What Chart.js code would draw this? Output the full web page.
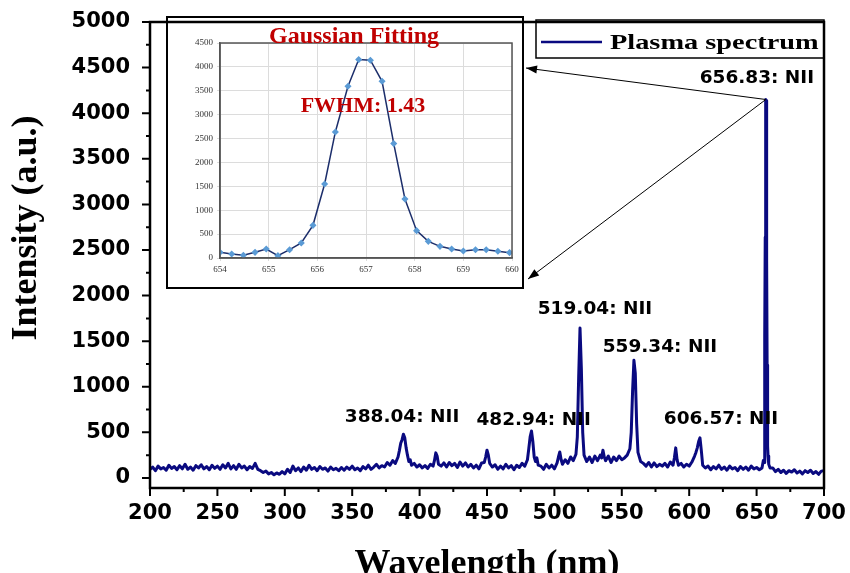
<!DOCTYPE html>
<html>
<head>
<meta charset="utf-8">
<script src="https://cdn.jsdelivr.net/npm/chart.js@4.4.1/dist/chart.umd.min.js"></script>
<style>
  body { margin: 0; background: #fff; }
  #wrap { position: relative; width: 850px; height: 573px; }
  #inset { position: absolute; left: 167px; top: 17px; }
</style>
</head>
<body>
<div id="wrap">
  <canvas id="spectrum" width="850" height="573"></canvas>
  <canvas id="inset" width="356" height="271"></canvas>
</div>
<script>
// main spectrum
const wavelength = [
  200,202,204,206,208,210,212,214,216,218,
  220,222,224,226,228,230,232,234,236,238,
  240,242,244,246,248,250,252,254,256,258,
  260,262,264,266,268,270,272,274,276,278,
  280,282,284,286,288,290,292,294,296,298,
  300,302,304,306,308,310,312,314,316,318,
  320,322,324,326,328,330,332,334,336,338,
  340,342,344,346,348,350,352,354,356,358,
  360,362,364,366,368,370,372,374,376,378,
  380,382,384,385,386,387,388,389,390,391,
  392,393,394,396,398,400,402,404,406,408,
  410,411,412,413,414,416,418,420,422,424,
  426,428,430,432,434,436,438,440,442,444,
  446,448,449,450,451,452,454,456,458,460,
  462,464,466,468,470,472,474,476,478,480,
  481,482,483,484,485,486,487,488,490,492,
  494,496,498,500,502,503,504,505,506,508,
  510,512,514,516,517,518,519,520,521,522,
  524,526,528,530,532,534,535,536,537,538,
  540,542,544,546,548,550,552,554,556,557,
  558,559,560,561,562,564,566,568,570,572,
  574,576,578,580,582,584,586,588,589,590,
  591,592,594,596,598,600,602,604,605,606,
  607,608,609,610,612,614,616,618,620,622,
  624,626,628,630,632,634,636,638,640,642,
  644,646,648,650,652,654,655,655.5,655.9,656.15,
  656.4,656.63,656.83,657.09,657.33,657.57,657.8,658.04,658.3,658.5,
  659,660,662,664,666,668,670,672,674,676,
  678,680,682,684,686,688,690,692,694,696,
  698,700
]
const intensity = [
  95,120,80,130,100,115,85,140,105,125,
  90,135,100,150,95,120,85,135,110,145,
  100,125,90,140,105,130,95,145,110,160,
  100,135,95,150,110,130,90,125,105,160,
  95,80,60,75,45,60,35,55,40,70,
  45,95,60,130,80,110,70,120,85,140,
  95,115,80,125,95,110,75,120,90,105,
  80,115,85,120,95,130,90,110,80,125,
  100,140,95,120,150,110,135,120,170,140,
  190,160,230,300,380,420,480,440,330,250,
  180,200,140,160,120,145,110,135,105,150,
  130,190,275,240,150,130,165,120,170,135,
  160,115,175,130,165,120,150,110,140,100,
  165,170,230,305,250,160,120,145,95,130,
  100,150,110,135,90,140,115,160,130,200,
  320,450,515,400,230,180,220,140,130,95,
  150,110,140,100,165,230,285,200,150,200,
  160,230,190,260,450,1100,1645,1200,500,250,
  180,230,170,240,190,250,220,305,230,190,
  240,170,230,190,240,200,220,250,320,500,
  950,1290,1150,600,280,180,160,130,170,120,
  165,125,150,130,160,120,175,140,220,330,
  200,140,160,120,150,130,175,240,280,330,
  400,440,300,140,110,130,90,125,100,140,
  95,120,85,130,100,115,80,125,95,120,
  85,130,100,115,90,110,190,170,680,1550,
  2640,3590,4150,4140,3700,2390,1240,570,350,240,
  150,110,110,70,95,60,85,50,80,65,
  90,55,75,45,80,60,85,50,70,40,
  75,80
]
const xTicks = [200,250,300,350,400,450,500,550,600,650,700]
const yTicks = [0,500,1000,1500,2000,2500,3000,3500,4000,4500,5000]

const peakNames = ['388.04: NII','482.94: NII','519.04: NII','559.34: NII','606.57: NII','656.83: NII']
const peakLabelAt = [[387,617],[484.6,581],[530.1,1797],[578.3,1381],[623.6,592],[650.2,4330]]
const strongPeak = [656.83, 4150]

// inset: gaussian fit of the 656.83 line
const fitX = [654.00,654.24,654.48,654.72,654.95,655.19,655.43,655.67,655.91,656.15,656.37,656.63,656.85,
              657.09,657.33,657.57,657.80,658.04,658.28,658.52,658.76,659.00,659.25,659.47,659.71,659.95]
const fitY = [119,84,56,119,188,49,174,314,684,1549,2638,3594,4153,
              4139,3699,2394,1235,572,349,244,188,147,174,174,140,112]
const fitXTicks = [654,655,656,657,658,659,660]
const fitYTicks = [0,500,1000,1500,2000,2500,3000,3500,4000,4500]

const navy = '#0a0a80'
const red = '#c00000'

function arrow(ctx, x1, y1, x2, y2) {
    const ang = Math.atan2(y2 - y1, x2 - x1)
    ctx.beginPath()
    ctx.moveTo(x1, y1)
    ctx.lineTo(x2, y2)
    ctx.stroke()
    ctx.beginPath()
    ctx.moveTo(x2, y2)
    ctx.lineTo(x2 - 11*Math.cos(ang) + 4*Math.sin(ang), y2 - 11*Math.sin(ang) - 4*Math.cos(ang))
    ctx.lineTo(x2 - 11*Math.cos(ang) - 4*Math.sin(ang), y2 - 11*Math.sin(ang) + 4*Math.cos(ang))
    ctx.closePath()
    ctx.fill()
}

// labels may hang over the edges, the plot box stays where the padding puts it
function noOverhang(s) {
    s.paddingLeft = 0; s.paddingRight = 0; s.paddingTop = 0; s.paddingBottom = 0
}

const decor = {
    id: 'decor',
    afterDraw(chart) {
        const {ctx, chartArea: a, scales: {x, y}} = chart
        ctx.save()
        ctx.strokeStyle = '#000'
        ctx.fillStyle = '#000'

        // ticks, major + minor, pointing out
        ctx.lineWidth = 2
        ctx.beginPath()
        xTicks.forEach((v, i) => {
            const px = x.getPixelForValue(v)
            ctx.moveTo(px, a.bottom); ctx.lineTo(px, a.bottom + 8)
            if (i > 0) {
                const mx = x.getPixelForValue((v + xTicks[i-1]) / 2)
                ctx.moveTo(mx, a.bottom); ctx.lineTo(mx, a.bottom + 4)
            }
        })
        yTicks.forEach((v, i) => {
            const py = y.getPixelForValue(v)
            ctx.moveTo(a.left, py); ctx.lineTo(a.left - 8, py)
            if (i > 0) {
                const my = y.getPixelForValue((v + yTicks[i-1]) / 2)
                ctx.moveTo(a.left, my); ctx.lineTo(a.left - 4, my)
            }
        })
        ctx.stroke()

        // inset box
        ctx.lineWidth = 2
        ctx.strokeRect(167, 17, 356, 271)

        // legend box
        ctx.lineWidth = 1.5
        ctx.strokeRect(536, 20, a.right - 536, 38)
        ctx.strokeStyle = navy
        ctx.lineWidth = 2.5
        ctx.beginPath(); ctx.moveTo(541, 42); ctx.lineTo(602, 42); ctx.stroke()
        ctx.save()
        ctx.translate(610, 49)
        ctx.scale(1.35, 1)
        ctx.font = 'bold 21px "Liberation Serif"'
        ctx.textAlign = 'left'
        ctx.fillText(chart.data.datasets[0].label, 0, 0)
        ctx.restore()

        // frame
        ctx.strokeStyle = '#000'
        ctx.lineWidth = 2.5
        ctx.strokeRect(a.left, a.top, a.right - a.left, a.bottom - a.top)

        // arrows to the inset
        ctx.lineWidth = 1
        const sx = x.getPixelForValue(strongPeak[0]), sy = y.getPixelForValue(strongPeak[1])
        arrow(ctx, sx, sy, 526, 68)
        arrow(ctx, sx, sy, 528, 279)

        // peak labels
        ctx.font = 'bold 18.5px "DejaVu Sans"'
        ctx.textAlign = 'center'
        ctx.textBaseline = 'alphabetic'
        peakNames.forEach((t, i) => {
            ctx.fillText(t, x.getPixelForValue(peakLabelAt[i][0]), y.getPixelForValue(peakLabelAt[i][1]))
        })

        // axis titles
        ctx.font = 'bold 36px "Liberation Serif"'
        ctx.fillText('Wavelength (nm)', (a.left + a.right) / 2, 574)
        ctx.save()
        ctx.translate(27, 228)
        ctx.rotate(-Math.PI / 2)
        ctx.textBaseline = 'middle'
        ctx.fillText('Intensity (a.u.)', 0, 0)
        ctx.restore()
        ctx.restore()
    }
}

const tickFont = {family: 'DejaVu Sans', weight: 'bold', size: 21}

new Chart(document.getElementById('spectrum'), {
    type: 'line',
    data: {
        datasets: [{
            label: 'Plasma spectrum',
            data: wavelength.map((w, i) => ({x: w, y: intensity[i]})),
            borderColor: navy,
            borderWidth: 3,
            borderJoinStyle: 'round',
            pointRadius: 0,
            tension: 0,
            fill: false
        }]
    },
    options: {
        responsive: false,
        animation: false,
        devicePixelRatio: 1,
        layout: {padding: {top: 22, right: 26, left: 0, bottom: 0}},
        plugins: {legend: {display: false}, tooltip: {enabled: false}},
        scales: {
            x: {
                type: 'linear', min: 200, max: 700,
                afterBuildTicks: s => { s.ticks = xTicks.map(v => ({value: v})) },
                afterFit: s => { s.height = 85; noOverhang(s) },
                grid: {display: false, drawTicks: false},
                border: {display: false},
                ticks: {padding: 13, font: tickFont, color: '#000', maxRotation: 0, autoSkip: false, callback: v => String(v)}
            },
            y: {
                type: 'linear', min: -110, max: 5000,
                afterBuildTicks: s => { s.ticks = yTicks.map(v => ({value: v})) },
                afterFit: s => { s.width = 150; noOverhang(s) },
                grid: {display: false, drawTicks: false},
                border: {display: false},
                ticks: {padding: 20, font: tickFont, color: '#000', autoSkip: false, callback: v => String(v)}
            }
        }
    },
    plugins: [decor]
})

const insetDecor = {
    id: 'insetDecor',
    afterDraw(chart) {
        const {ctx, chartArea: a} = chart
        ctx.save()
        ctx.strokeStyle = '#555'
        ctx.lineWidth = 1.5
        ctx.strokeRect(a.left, a.top, a.right - a.left, a.bottom - a.top)
        ctx.fillStyle = red
        ctx.textAlign = 'center'
        ctx.font = 'bold 24px "Liberation Serif"'
        ctx.fillText('Gaussian Fitting', 187, 26)
        ctx.font = 'bold 22px "Liberation Serif"'
        ctx.fillText('FWHM: 1.43', 196, 95)
        ctx.restore()
    }
}

const insetFont = {family: 'Liberation Serif', size: 9}

new Chart(document.getElementById('inset'), {
    type: 'line',
    data: {
        datasets: [{
            label: 'Gaussian Fitting',
            data: fitX.map((w, i) => ({x: w, y: fitY[i]})),
            borderColor: '#1c2e6b',
            borderWidth: 1.5,
            pointStyle: 'rectRot',
            pointRadius: 2.5,
            pointBackgroundColor: '#5b9bd5',
            pointBorderColor: '#5b9bd5',
            tension: 0
        }]
    },
    options: {
        responsive: false,
        animation: false,
        devicePixelRatio: 1,
        layout: {padding: {top: 26, right: 11, left: 0, bottom: 0}},
        plugins: {legend: {display: false}, tooltip: {enabled: false}},
        scales: {
            x: {
                type: 'linear', min: 654, max: 660,
                afterBuildTicks: s => { s.ticks = fitXTicks.map(v => ({value: v})) },
                afterFit: s => { s.height = 30; noOverhang(s) },
                grid: {color: '#dcdcdc', tickLength: 3},
                border: {color: '#555', width: 1.5},
                ticks: {padding: 3, font: insetFont, color: '#333', maxRotation: 0, autoSkip: false, callback: v => String(v)}
            },
            y: {
                type: 'linear', min: 0, max: 4500,
                afterBuildTicks: s => { s.ticks = fitYTicks.map(v => ({value: v})) },
                afterFit: s => { s.width = 53; noOverhang(s) },
                grid: {color: '#dcdcdc', tickLength: 3},
                border: {color: '#555', width: 1.5},
                ticks: {padding: 4, font: insetFont, color: '#333', autoSkip: false, callback: v => String(v)}
            }
        }
    },
    plugins: [insetDecor]
})
</script>
</body>
</html>
